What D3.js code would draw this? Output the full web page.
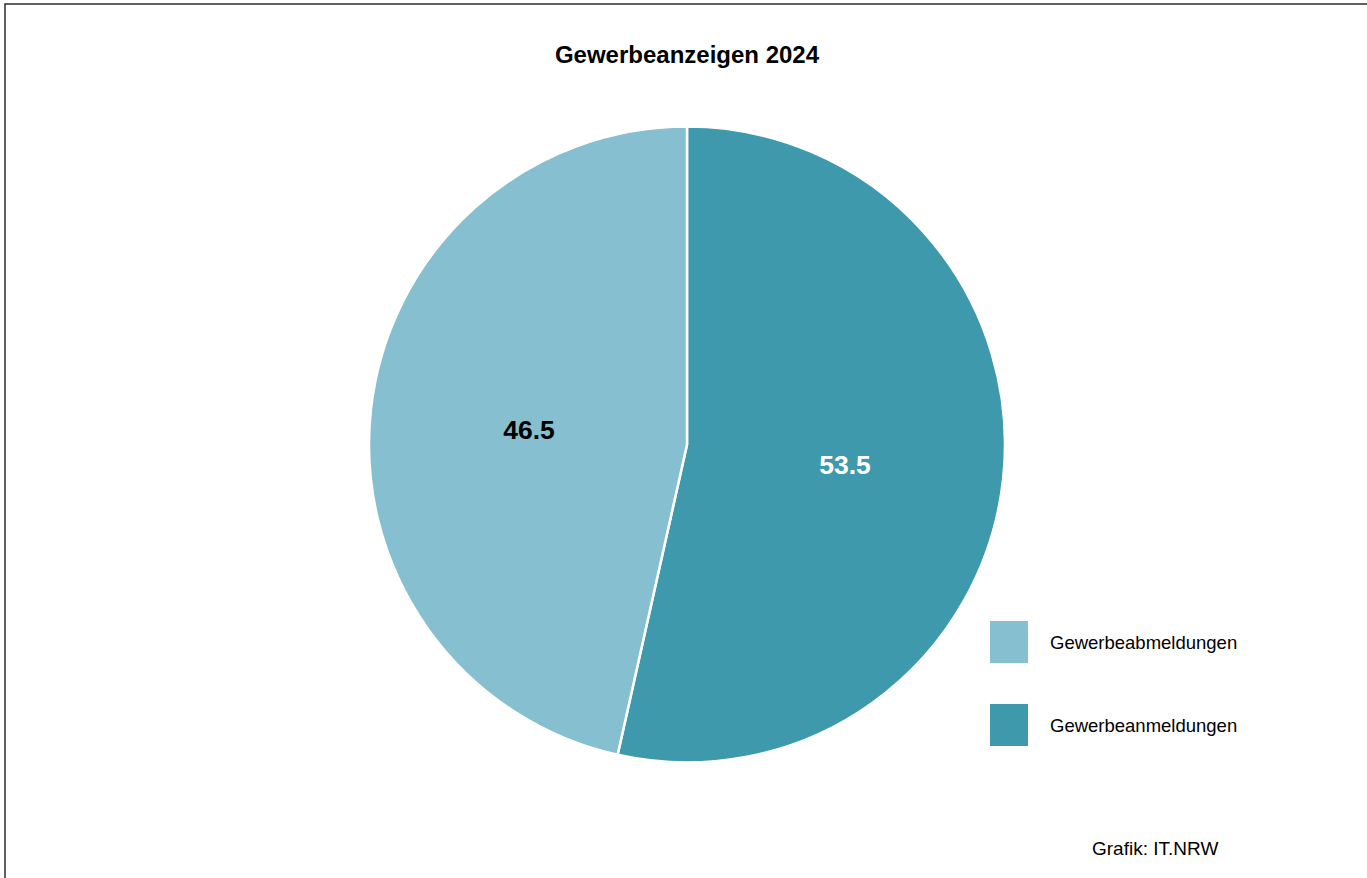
<!doctype html>
<html lang="de">
<head>
    <meta charset="utf-8">
    <style>
      body { margin: 0; background: #fff; }
      text { font-family: "Liberation Sans", Arial, Helvetica, sans-serif; }
    </style>
</head>
<body>
    <div id="chart"></div>
    <script src="https://d3js.org/d3.v7.min.js"></script>
    <script>
        // Anteile in Prozent
        var categories = ["Gewerbeanmeldungen", "Gewerbeabmeldungen"];
        var values = [53.5, 46.5];
        var colors = ["#3f99ad", "#86bfcf"];
        var labelColors = ["#ffffff", "#000000"];
        // Legende in umgekehrter Reihenfolge
        var legendOrder = ["Gewerbeabmeldungen", "Gewerbeanmeldungen"];

        var width = 1367, height = 878;
        var cx = 687, cy = 444.5, radius = 318;

        var svg = d3.select("#chart")
                    .append("svg")
                    .attr("width", width)
                    .attr("height", height);

        // Rahmen
        svg.append("rect")
           .attr("x", 5).attr("y", 4)
           .attr("width", width + 20).attr("height", height + 20)
           .attr("fill", "none")
           .attr("stroke", "#3a3a3a")
           .attr("stroke-width", 1.6);

        svg.append("text")
           .attr("x", 687).attr("y", 63)
           .attr("text-anchor", "middle")
           .attr("font-size", 24)
           .attr("font-weight", "bold")
           .text("Gewerbeanzeigen 2024");

        var color = d3.scaleOrdinal().domain(categories).range(colors);
        var labelColor = d3.scaleOrdinal().domain(categories).range(labelColors);

        var data = categories.map(function(c, i) { return { name: c, value: values[i] }; });
        var pie = d3.pie().sort(null).value(function(d) { return d.value; });
        var arc = d3.arc().innerRadius(0).outerRadius(radius);

        var g = svg.append("g").attr("transform", "translate(" + cx + "," + cy + ")");

        g.selectAll("path")
         .data(pie(data))
         .enter()
         .append("path")
         .attr("d", arc)
         .attr("fill", function(d) { return color(d.data.name); })
         .attr("stroke", "#fff")
         .attr("stroke-width", 2.5);

        g.selectAll("text.lbl")
         .data(pie(data))
         .enter()
         .append("text")
         .attr("class", "lbl")
         .attr("transform", function(d) { return "translate(" + arc.centroid(d) + ")"; })
         .attr("text-anchor", "middle")
         .attr("dy", "0.46em")
         .attr("font-size", 26.5)
         .attr("font-weight", "bold")
         .attr("fill", function(d) { return labelColor(d.data.name); })
         .text(function(d) { return d3.format(".1f")(d.data.value); });

        // Legende
        var legendY = d3.scalePoint().domain(legendOrder).range([642, 725]);
        var legend = svg.selectAll("g.legend")
                        .data(legendOrder)
                        .enter()
                        .append("g")
                        .attr("class", "legend")
                        .attr("transform", function(d) { return "translate(0," + legendY(d) + ")"; });
        legend.append("rect")
              .attr("x", 990).attr("y", -21)
              .attr("width", 38).attr("height", 42)
              .attr("fill", function(d) { return color(d); });
        legend.append("text")
              .attr("x", 1050).attr("y", 0)
              .attr("dy", "0.38em")
              .attr("font-size", 18.5)
              .text(function(d) { return d; });

        svg.append("text")
           .attr("x", 1092).attr("y", 855)
           .attr("font-size", 19)
           .text("Grafik: IT.NRW");
    </script>
</body>
</html>
